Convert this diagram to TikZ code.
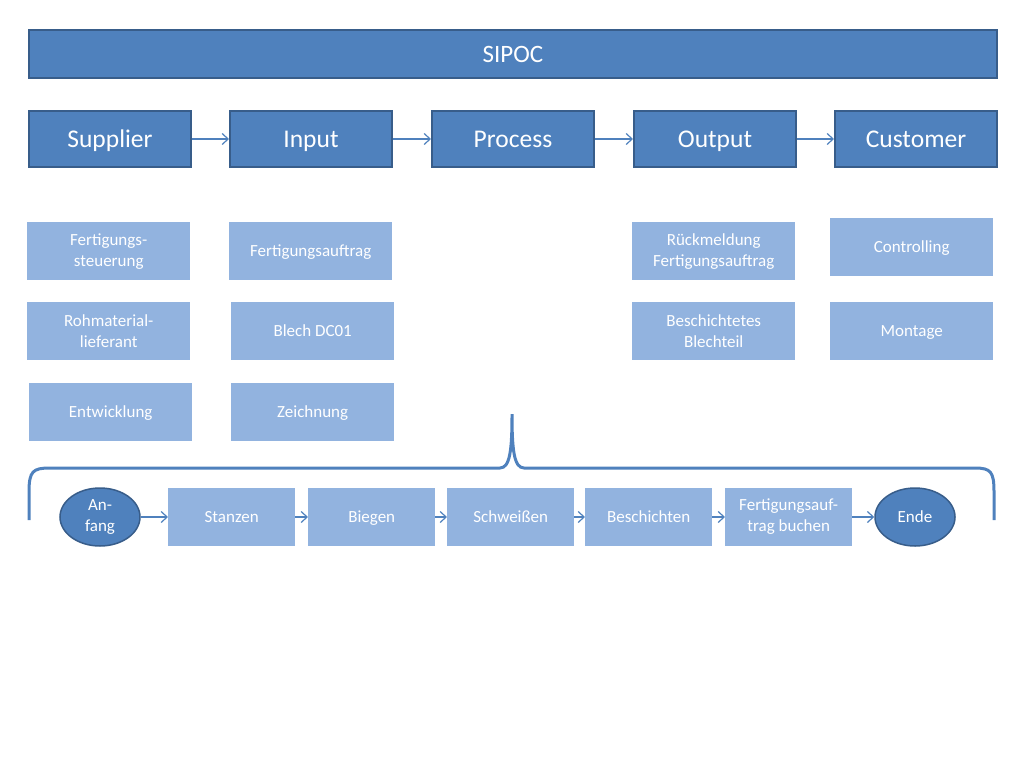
\documentclass[tikz,border=0pt]{standalone}
\usepackage{fontspec}
\setmainfont{Carlito}
\usetikzlibrary{positioning,shapes.geometric,arrows.meta}
\definecolor{sipocdark}{HTML}{4F81BD}
\definecolor{sipocline}{HTML}{385D8A}
\definecolor{sipoclight}{HTML}{92B3DF}
\tikzset{
     head/.style={fill=sipocdark, draw=sipocline, line width=2pt, text=white, rectangle, inner sep=0pt},
     col/.style={head, minimum width=162, minimum height=56, text height=23pt, text depth=6pt, font=\fontsize{25.5}{30}\selectfont},
     item/.style={fill=sipoclight, rectangle, text=white, inner sep=0pt, align=center, minimum height=58, font=\fontsize{17}{21}\selectfont},
     one/.style={text height=15pt, text depth=4pt},
     itemA/.style={item, minimum width=163},
     procbox/.style={item, minimum width=127},
     endpt/.style={ellipse, fill=sipocdark, draw=sipocline, line width=1.5pt, text=white, minimum width=80, minimum height=58, inner sep=0pt, align=center, font=\fontsize{17}{21}\selectfont},
     flow/.style={draw=sipocdark, line width=1.2pt, -{Straight Barb[length=6pt,width=11pt]}},
}

\begin{document}
\begin{tikzpicture}[x=1pt, y=-1pt]
		\useasboundingbox (0,0) rectangle (1024,768);

		%%title
		\node[head, minimum width=968, minimum height=48, anchor=north west,
		font=\fontsize{25}{30}\selectfont] (sipoc) at (28,29) {SIPOC};

		%%columns
		\node[col, anchor=north west] (sup) at (28,110) {Supplier};
		\node[col, anchor=north west] (inp) at (229,110) {Input};
		\node[col, anchor=north west] (pro) at (431,110) {Process};
		\node[col, anchor=north west] (out) at (633,110) {Output};
		\node[col, anchor=north west] (cus) at (834,110) {Customer};
		\foreach \a/\b in {sup/inp,inp/pro,pro/out,out/cus}
			\draw[flow] (\a) -- (\b);

		\node[itemA, anchor=north west] (sup1) at (27,222) {Fertigungs-\\steuerung};
		\node[itemA, anchor=north west] (sup2) at (27,302) {Rohmaterial-\\lieferant};
		\node[itemA, one, anchor=north west] (sup3) at (29,383) {Entwicklung};

		\node[itemA, one, anchor=north west] (inp1) at (229,222) {Fertigungsauftrag};
		\node[itemA, one, anchor=north west] (inp2) at (231,302) {Blech DC01};
		\node[itemA, one, anchor=north west] (inp3) at (231,383) {Zeichnung};

		\node[itemA, anchor=north west] (out1) at (632,222) {Rückmeldung\\Fertigungsauftrag};
		\node[itemA, anchor=north west] (out2) at (632,302) {Beschichtetes\\Blechteil};

		\node[itemA, one, anchor=north west] (cus1) at (830,218) {Controlling};
		\node[itemA, one, anchor=north west] (cus2) at (830,302) {Montage};

		%%brace
		\draw[sipocdark, line width=3pt]
		(29,520) -- (29,492) .. controls (29,471) and (33,468) .. (50,468)
		-- (500,468) .. controls (510,468) and (512,450) .. (512,414)
		.. controls (512,450) and (514,468) .. (524,468)
		-- (975,468) .. controls (991,468) and (994,472) .. (994,492) -- (994,520);

		%%process
		\node[endpt] (anf) at (100,517) {An-\\fang};
		\node[procbox, one, anchor=west] (stz) at (168,517) {Stanzen};
		\node[procbox, one, anchor=west] (bie) at (308,517) {Biegen};
		\node[procbox, one, anchor=west] (sch) at (447,517) {Schweißen};
		\node[procbox, one, anchor=west] (bes) at (585,517) {Beschichten};
		\node[procbox, anchor=west] (fab) at (725,517) {Fertigungsauf-\\trag buchen};
		\node[endpt, one] (ende) at (915,517) {Ende};
		\foreach \a/\b in {anf/stz,stz/bie,bie/sch,sch/bes,bes/fab,fab/ende}
			\draw[flow] (\a) -- (\b);

\end{tikzpicture}
\end{document}
